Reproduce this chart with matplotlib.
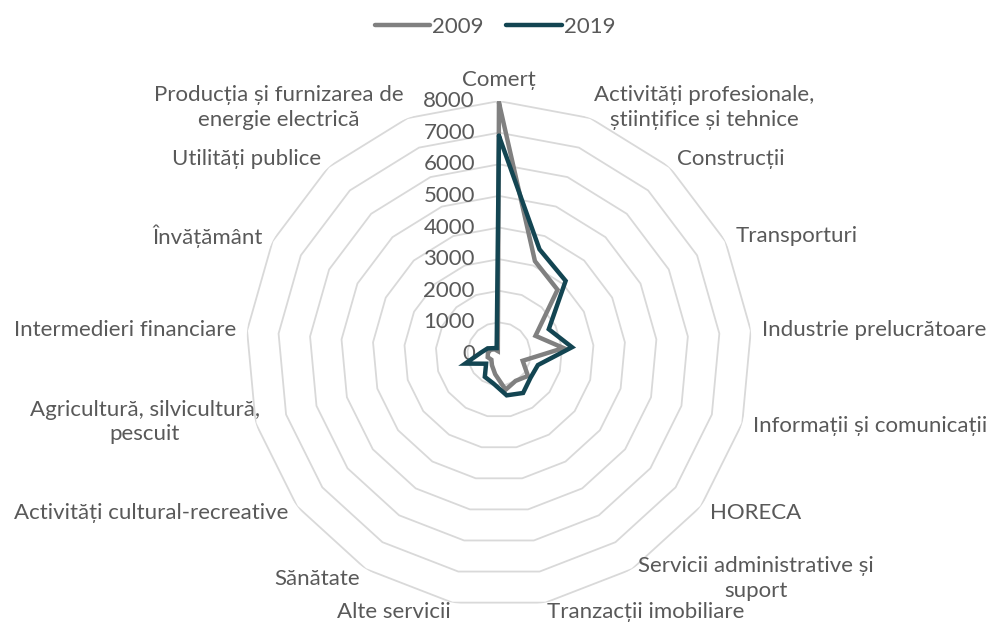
import numpy as np
import matplotlib
matplotlib.use("Agg")
import matplotlib.pyplot as plt

plt.rcParams['font.family'] = ['Lato', 'DejaVu Sans']

categories = [
    "Comerț",
    "Activități profesionale,\nștiințifice și tehnice",
    "Construcții",
    "Transporturi",
    "Industrie prelucrătoare",
    "Informații și comunicații",
    "HORECA",
    "Servicii administrative și\nsuport",
    "Tranzacții imobiliare",
    "Alte servicii",
    "Sănătate",
    "Activități cultural-recreative",
    "Agricultură, silvicultură,\npescuit",
    "Intermedieri financiare",
    "Învățământ",
    "Utilități publice",
    "Producția și furnizarea de\nenergie electrică",
]
v2009 = [7950, 3150, 2750, 1290, 2050, 780, 1150, 1000, 1150, 650, 420, 300, 370, 350, 300, 200, 100]
v2019 = [6900, 3550, 3130, 1760, 2320, 1280, 1250, 1450, 1330, 950, 850, 510, 1110, 560, 400, 250, 200]
ticks = [0, 1000, 2000, 3000, 4000, 5000, 6000, 7000, 8000]

txt = "#595959"
grid = "#d9d9d9"
c09 = "#808080"
c19 = "#134552"

n = len(categories)
ang = np.linspace(0, 2 * np.pi, n, endpoint=False)
ang_c = np.append(ang, ang[0])

fig = plt.figure(figsize=(9.9, 6.24), dpi=100)
ax = fig.add_axes([0.2485, 0.0272, 0.511, 0.811], projection='polar')
ax.set_theta_zero_location('N')
ax.set_theta_direction(-1)
ax.set_ylim(0, 8000)
ax.grid(False)
ax.spines['polar'].set_visible(False)
ax.set_xticks([])
ax.set_yticks([])
ax.patch.set_alpha(0)

# ring polygons
for t in ticks[1:]:
    ax.plot(ang_c, [t] * (n + 1), color=grid, lw=1.3, zorder=1)

for t in ticks:
    ax.annotate(str(t), xy=(0, t), xytext=(-24, 0), textcoords='offset pixels',
                ha='right', va='center', fontsize=16, color=txt, zorder=2)

ax.plot(ang_c, v2009 + v2009[:1], color=c09, lw=3.2, zorder=3, label="2009",
        solid_capstyle='round', solid_joinstyle='miter')
ax.plot(ang_c, v2019 + v2019[:1], color=c19, lw=3.2, zorder=4, label="2019",
        solid_capstyle='round', solid_joinstyle='miter')

rl = 8360
for a, lab in zip(ang, categories):
    s = np.sin(a)
    if abs(s) < 0.05:
        ha, va = 'center', 'bottom'
    elif s > 0:
        ha, va = 'left', 'center'
    else:
        ha, va = 'right', 'center'
    r = rl
    if np.cos(a) < -0.95:
        r = rl - 60
    if lab.startswith("Agricultur"):
        r = rl - 500
    ax.text(a, r, lab, ha=ha, va=va, fontsize=16, color=txt,
            multialignment='center', linespacing=1.3)

fig.legend(loc='upper center', bbox_to_anchor=(0.5, 1.005), ncol=2, frameon=False,
           fontsize=16, labelcolor=txt, handlelength=2.5, handletextpad=0.1,
           columnspacing=1.0)

fig.savefig("out.png", dpi=100)
